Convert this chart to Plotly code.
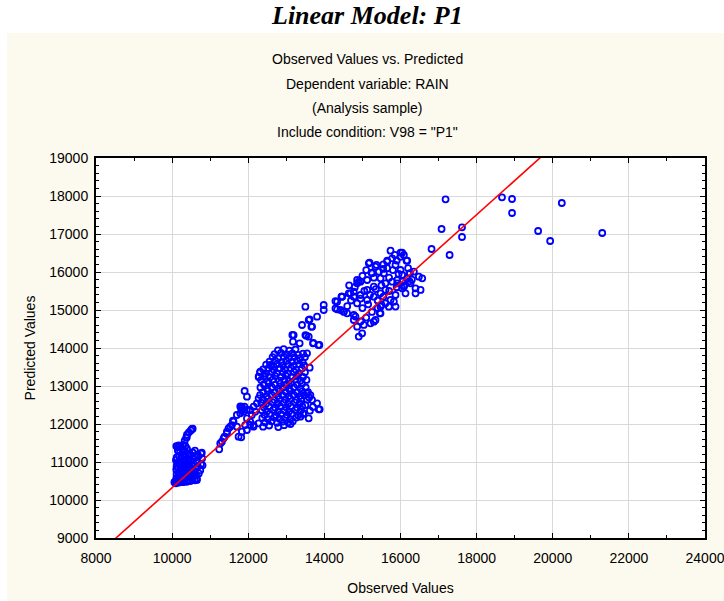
import plotly.graph_objects as go

# ---------------- data ----------------
obs_low = [10060,10100,10140,10180,10230,10280,10330,10380,10430,10480,10540,10600,10650,
           10110,10160,10210,10270,10320,10370,10420,10470,10520,10580,10630,10700,10740,
           10120,10170,10220,10280,10330,10390,10440,10500,10560,10620,10680,10760,10790,
           10760,10690,10640,10580,10520,10460,10400,10340,10280,10220,10160,10110,10130,
           10190,10250,10310,10370,10430,10490,10550,10610,10670,10120,10180,10240,10300,
           10360,10420,10480,10540,10600,10150,10210,10270,10330,10390,10110,10170,10230,
           10290,10350,10330,10370,10390,10440,10490,10520,10200,10100,10780,10800,10650,
           10080,10180,10385,10540,10120,10140]
pred_low = [10470,10440,10500,10460,10490,10470,10510,10480,10520,10500,10540,10520,10560,
            10560,10600,10570,10620,10590,10640,10610,10660,10630,10680,10650,10700,10780,
            10680,10720,10690,10750,10720,10780,10750,10800,10770,10830,10880,10950,11100,
            11220,11150,11020,10940,10900,10870,10900,10850,10880,10830,10860,10800,10960,
            11000,10970,11030,11000,11060,11020,11080,11120,11200,11120,11160,11120,11190,
            11150,11220,11180,11250,11300,11300,11260,11330,11290,11350,11420,11440,11400,
            11450,11420,11560,11640,11720,11780,11830,11870,11000,11050,11246,10912,10527,
            10483,11404,11649,11877,10877,11386]

obs_mid = [11237,11264,11307,11351,11377,11439,11439,11482,11526,11570,11597,11614,11702,
           11746,11816,11833,11789,11833,11877,11834,11904,11966,11921,11965,12052,12140,
           12052,12140,12228,12272,11790,11700,11814,11902,11964,12095,12182,11964,12051,
           12139,12270,
           12780,12930,13080,13240,
           12690,12860,13010,13160,13310,13440,
           12640,12790,12930,13070,13210,13360,13490,
           12560,12710,12870,13000,13150,13280,13430,
           12470,12610,12750,12910,13040,13190,13340,13470,
           12390,12530,12670,12830,12960,13120,13250,13410,
           12310,12450,12620,12750,12910,13030,13200,13330,13490,
           12280,12430,12570,12710,12860,12990,13160,13290,13440,
           12340,12510,12640,12810,12950,13070,13240,13370,13530,
           12410,12540,12710,12840,13000,13120,13290,13410,
           12320,12490,12620,12790,12910,13070,13200,13370,13510,
           12390,12520,12690,12820,12990,13110,13280,13420,13570,
           12310,12480,12610,12780,12900,13060,13190,13360,13470,
           12390,12520,12690,12820,12980,13100,13270,13390,13550,
           12340,12470,12640,12770,12930,13050,13220,13350,
           12410,12540,12710,12840,13000,13120,13290,13420,
           12360,12490,12660,12790,12950,13070,13240,13370,
           12430,12560,12730,12860,13020,13140,13310,13440,
           12370,12520,12690,12820,12980,13100,13260,
           12440,12610,12760,12890,13050,13170,
           12390,12550,12790,12940,13110,
           13545,13677,13808,13877,13369,13588,13632,13851,13456,13500,13600,13700,13620,
           12316,12403,12580,12667,12272,
           13159,13527,13711,13842,13176,13351,13193,13501,13589,13414,13589,13677,13808,
           13501,13983,13983,13614,13658,13702,13868,13544,13614]
pred_mid = [11333,11490,11535,11622,11667,11753,11798,11885,11930,11973,12087,12061,11929,
            11666,11649,11798,12280,12455,12324,12368,12868,12719,11973,12148,12061,11973,
            12368,12455,12543,12675,12460,12237,12412,12456,12368,12237,12324,11842,11974,
            11930,12017,
            13940,13970,13930,13960,
            13840,13870,13830,13860,13820,13850,
            13760,13730,13770,13740,13760,13730,13760,
            13640,13670,13630,13660,13640,13670,13630,
            13560,13530,13570,13540,13560,13530,13570,13540,
            13440,13470,13430,13460,13440,13470,13430,13460,
            13360,13330,13370,13340,13360,13330,13370,13340,13360,
            13240,13270,13230,13260,13240,13270,13230,13260,13240,
            13160,13130,13170,13140,13160,13130,13170,13140,13160,
            13040,13070,13030,13060,13040,13070,13030,13060,
            12960,12930,12970,12940,12960,12930,12970,12940,12960,
            12840,12870,12830,12860,12840,12870,12830,12860,12840,
            12760,12730,12770,12740,12760,12730,12770,12740,12760,
            12640,12670,12630,12660,12640,12670,12630,12660,12640,
            12560,12530,12570,12540,12560,12530,12570,12540,
            12440,12470,12430,12460,12440,12470,12430,12460,
            12360,12330,12370,12340,12360,12330,12370,12340,
            12240,12270,12230,12260,12240,12270,12230,12260,
            12160,12130,12170,12140,12160,12130,12170,
            12040,12070,12030,12060,12040,12070,
            11930,11960,11920,11970,12000,
            12807,12631,12544,12386,12192,12149,12762,12385,12280,12499,12700,12450,12350,
            13376,13245,13552,13509,13244,
            14342,14323,14131,14078,14167,14123,14341,14341,14297,14605,14737,14560,14824,
            15087,15132,15000,14754,14561,14123,14079,13860,13483]

obs_high = [15738,16001,16089,16159,15782,15650,15869,16001,16045,16246,16352,16483,16571,
            16395,16527,16264,16089,15913,15869,15738,15606,15475,15475,15343,15212,15036,
            14861,14773,14773,14598,14422,14291,14335,14466,14641,14773,14861,14948,15124,
            15255,15343,15168,15431,15563,15475,15606,15299,15124,14948,15124,15299,15475,
            15606,15782,15913,16045,16176,15694,15826,
            15185,15369,15238,15545,15650,15869,15457,15501,14904,14466,14510,14817,14904,
            14992,15299,16044,16132,16395,16237,16237,16044,16176,
            14290,14448,14335,14509,14685,14773,14860,14860,
            14600,14700,14950,15050,15200,15350,15400,15550,15000,15150,15250,15400,15100,
            14950,15500,15700,15800,15650,15550,15900,16000,15850,14800,14650,15000,15100,
            15300,15700,15900,16100,16300,16200,15950]
pred_high = [16561,16509,16447,16298,16360,16272,16184,16053,15921,15965,16009,15877,15833,
             15570,15527,15702,15614,15702,15395,15263,15176,15088,14913,14737,14649,14606,
             14562,14737,14869,14913,15000,15044,15220,15351,15439,15483,15702,15746,15790,
             15965,16140,16228,16009,15965,15833,15702,15614,15527,15395,15263,15351,15439,
             15527,15746,15790,15746,15833,15088,15220,
             16247,16185,15983,16080,16299,15089,14914,15133,15747,15352,14957,14826,14300,
             14387,14694,15571,15440,15440,15966,15755,16510,16299,
             15236,15350,15017,14956,15439,15350,15175,15789,
             15100,15250,15300,15500,15400,15550,15250,15350,15050,15150,14950,15050,14800,
             14700,15650,15850,16050,16100,16200,16300,16400,16450,15600,15650,15900,16050,
             15850,15500,15600,15650,15800,16100,15950]

obs_out = [17184,18667,18930,18930,20238,19616,19932,21300,17079,17616,17616,17290,16816]
pred_out = [17913,17966,17921,17553,17816,17079,16816,17026,17132,17176,16921,16447,16605]

fit_intercept = 1344.0
fit_slope = 0.898
fit_x = [8000, 24000]

x_ticks = [8000, 10000, 12000, 14000, 16000, 18000, 20000, 22000, 24000]
y_ticks = [9000, 10000, 11000, 12000, 13000, 14000, 15000, 16000, 17000, 18000, 19000]

title = "Linear Model: P1"
subtitles = ["Observed Values vs. Predicted", "Dependent variable: RAIN",
             "(Analysis sample)", "Include condition: V98 = \"P1\""]

# ---------------- figure ----------------
obs = obs_low + obs_mid + obs_high + obs_out
pred = pred_low + pred_mid + pred_high + pred_out
fit_y = [fit_intercept + fit_slope * v for v in fit_x]

W, H = 724, 601
ML, MR, MT, MB = 96, 19, 158, 63
PH = H - MT - MB
PW = W - ML - MR

def py(pix):  # pixel row -> paper y
    return (H - MB - pix) / PH

def px(pix):
    return (pix - ML) / PW

fig = go.Figure()
fig.add_trace(go.Scatter(x=obs, y=pred, mode="markers",
                         marker=dict(symbol="circle-open", size=6, color="#0000FF",
                                     line=dict(width=1.8, color="#0000FF")),
                         cliponaxis=True, showlegend=False))
fig.add_trace(go.Scatter(x=fit_x, y=fit_y, mode="lines",
                         line=dict(color="#FF0000", width=1.6), showlegend=False))

cream = "#FCF9EE"
shapes = [
    dict(type="rect", xref="paper", yref="paper", x0=px(-20), x1=px(W + 20),
         y0=py(33), y1=py(-20), fillcolor="white", line=dict(width=0), layer="below"),
    dict(type="rect", xref="paper", yref="paper", x0=px(-20), x1=px(7),
         y0=py(H + 20), y1=py(-20), fillcolor="white", line=dict(width=0), layer="below"),
]

annotations = [dict(text=f"<b><i>{title}</i></b>", xref="paper", yref="paper",
                    x=px(367), y=py(15), xanchor="center", yanchor="middle", showarrow=False,
                    font=dict(family="Liberation Serif", size=26, color="black"))]
for t, yp in zip(subtitles, [59, 84, 108, 132]):
    annotations.append(dict(text=t, xref="paper", yref="paper", x=px(367), y=py(yp),
                            xanchor="center", yanchor="middle", showarrow=False,
                            font=dict(family="Liberation Sans", size=14, color="black")))

axis_common = dict(showline=True, linecolor="black", linewidth=2, mirror="ticks",
                   ticks="inside", ticklen=5, tickwidth=1, tickcolor="black",
                   showgrid=True, gridcolor="#D9D9D9", gridwidth=1, zeroline=False,
                   ticklabeloverflow="allow",
                   tickfont=dict(family="Liberation Sans", size=14, color="black"))

fig.update_xaxes(range=[8000, 24000], tickvals=x_ticks, ticktext=[str(v) for v in x_ticks],
                 minor=dict(dtick=1000, ticks="inside", ticklen=3, tickcolor="black", showgrid=False),
                 ticklabelstandoff=6,
                 title=dict(text="Observed Values", standoff=18,
                            font=dict(family="Liberation Sans", size=14, color="black")),
                 **axis_common)
fig.update_yaxes(range=[9000, 19000], tickvals=y_ticks, ticktext=[str(v) for v in y_ticks],
                 minor=dict(dtick=200, ticks="inside", ticklen=3, tickcolor="black", showgrid=False),
                 ticklabelstandoff=3,
                 title=dict(text="Predicted Values", standoff=10,
                            font=dict(family="Liberation Sans", size=14, color="black")),
                 **axis_common)

fig.update_layout(width=W, height=H, margin=dict(l=ML, r=MR, t=MT, b=MB, autoexpand=False),
                  paper_bgcolor=cream, plot_bgcolor="white", shapes=shapes,
                  annotations=annotations, showlegend=False)

fig.write_html("out.html", config={"displayModeBar": False},
               post_script="document.body.style.margin='0';document.body.style.overflow='hidden';")
